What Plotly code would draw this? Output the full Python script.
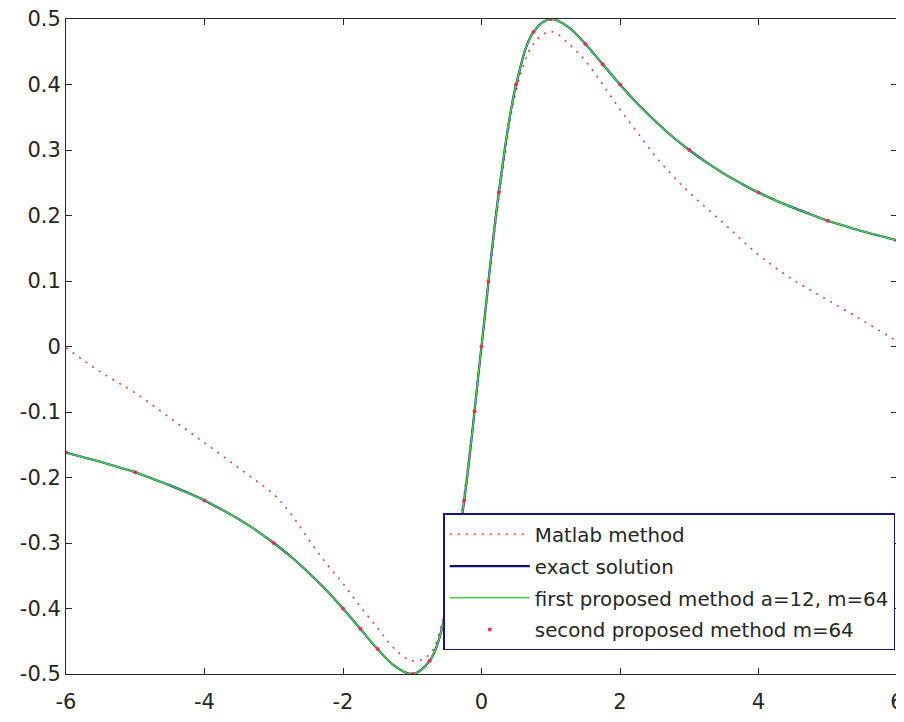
import plotly.graph_objects as go

# ---------------- data ----------------
x_exact = [-6, -5.75, -5.5, -5.25, -5, -4.75, -4.5, -4.25, -4, -3.75, -3.5, -3.25,
           -3, -2.75, -2.5, -2.25, -2, -1.75, -1.5, -1.25, -1, -0.75, -0.5, -0.25,
           0, 0.25, 0.5, 0.75, 1, 1.25, 1.5, 1.75, 2, 2.25, 2.5, 2.75, 3, 3.25,
           3.5, 3.75, 4, 4.25, 4.5, 4.75, 5, 5.25, 5.5, 5.75, 6]
y_exact = [-0.162, -0.169, -0.176, -0.184, -0.192, -0.202, -0.212, -0.223, -0.235,
           -0.249, -0.264, -0.281, -0.300, -0.321, -0.345, -0.371, -0.400, -0.431,
           -0.462, -0.488, -0.500, -0.480, -0.400, -0.235, 0.0, 0.235, 0.400, 0.480,
           0.500, 0.488, 0.462, 0.431, 0.400, 0.371, 0.345, 0.321, 0.300, 0.281,
           0.264, 0.249, 0.235, 0.223, 0.212, 0.202, 0.192, 0.184, 0.176, 0.169, 0.162]

x_first = x_exact
y_first = [-0.162, -0.169, -0.176, -0.184, -0.192, -0.202, -0.212, -0.223, -0.235,
           -0.249, -0.264, -0.281, -0.300, -0.321, -0.345, -0.371, -0.400, -0.431,
           -0.462, -0.488, -0.500, -0.480, -0.400, -0.235, 0.0, 0.235, 0.400, 0.480,
           0.500, 0.488, 0.462, 0.431, 0.400, 0.371, 0.345, 0.321, 0.300, 0.281,
           0.264, 0.249, 0.235, 0.223, 0.212, 0.202, 0.192, 0.184, 0.176, 0.169, 0.162]

x_matlab = [-6, -5.5, -5, -4.5, -4, -3.5, -3, -2.75, -2.5, -2.25, -2, -1.75, -1.5,
            -1.25, -1, -0.75, -0.5, -0.25, 0, 0.25, 0.5, 0.75, 1, 1.25, 1.5, 1.75,
            2, 2.25, 2.5, 2.75, 3, 3.5, 4, 4.5, 5, 5.5, 6]
y_matlab = [-0.002, -0.039, -0.071, -0.109, -0.147, -0.186, -0.226, -0.256, -0.294,
            -0.330, -0.362, -0.397, -0.430, -0.462, -0.480, -0.470, -0.390, -0.225,
            0.0, 0.225, 0.390, 0.462, 0.481, 0.463, 0.436, 0.400, 0.362, 0.327,
            0.292, 0.262, 0.235, 0.188, 0.140, 0.102, 0.071, 0.040, 0.008]

x_second = [-6, -5, -4, -3, -2, -1.75, -1.5, -1, -0.75, -0.5, -0.25, -0.1, 0,
            0.1, 0.25, 0.5, 0.75, 1, 1.5, 1.75, 2, 3, 4, 5, 6]
y_second = [-0.162, -0.192, -0.235, -0.300, -0.400, -0.431, -0.462, -0.500, -0.480,
            -0.400, -0.235, -0.099, 0.0, 0.099, 0.235, 0.400, 0.480, 0.500, 0.462,
            0.431, 0.400, 0.300, 0.235, 0.192, 0.162]

x_ticks = [-6, -4, -2, 0, 2, 4, 6]
x_ticktext = ["-6", "-4", "-2", "0", "2", "4", "6"]
y_ticks = [-0.5, -0.4, -0.3, -0.2, -0.1, 0, 0.1, 0.2, 0.3, 0.4, 0.5]
y_ticktext = ["-0.5", "-0.4", "-0.3", "-0.2", "-0.1", "0", "0.1", "0.2", "0.3", "0.4", "0.5"]

names = ["Matlab method", "exact solution", "first proposed method a=12, m=64",
         "second proposed method m=64"]

# ---------------- figure ----------------
FONT = "DejaVu Sans, Liberation Sans, Arial"

fig = go.Figure()
fig.add_trace(go.Scatter(x=x_matlab, y=y_matlab, mode="lines", name=names[0],
                         line=dict(color="rgb(215,70,60)", width=1.6, dash="2px,6px",
                                   shape="spline"),
                         legendgroup="a"))
fig.add_trace(go.Scatter(x=x_exact, y=y_exact, mode="lines", name=names[1],
                         line=dict(color="rgb(15,15,120)", width=2.2, shape="spline"),
                         legendgroup="b"))
fig.add_trace(go.Scatter(x=x_first, y=y_first, mode="lines", name=names[2],
                         line=dict(color="rgb(70,215,70)", width=1.5, shape="spline"),
                         legendgroup="c"))
fig.add_trace(go.Scatter(x=x_second, y=y_second, mode="markers", name=names[3],
                         marker=dict(color="rgb(225,50,90)", size=4),
                         legendgroup="d"))

axis_common = dict(showline=True, linecolor="#262626", linewidth=1, mirror="ticks",
                   ticks="inside", ticklen=6, tickcolor="#262626", showgrid=False,
                   zeroline=False, automargin=False, ticklabeloverflow="allow",
                   tickfont=dict(family=FONT, size=21, color="#262626"))

fig.update_xaxes(range=[-6, 6], tickmode="array", tickvals=x_ticks,
                 ticktext=x_ticktext, ticklabelstandoff=9, **axis_common)
fig.update_yaxes(range=[-0.5, 0.5], tickmode="array", tickvals=y_ticks,
                 ticktext=y_ticktext, **axis_common)

# the page body has an 8 px default margin, so the figure is sized to fit the window
fig.update_layout(
    width=896, height=714,
    margin=dict(l=58, r=7, t=11, b=48),
    plot_bgcolor="white", paper_bgcolor="white",
    font=dict(family=FONT, size=20, color="#262626"),
    legend=dict(x=0.998, xanchor="right", y=0.036, yanchor="bottom",
                bgcolor="white", bordercolor="rgb(20,20,140)", borderwidth=1.5,
                font=dict(family=FONT, size=19.8, color="#262626"), itemwidth=80,
                traceorder="grouped", tracegroupgap=3),
    showlegend=True,
)

fig.write_html("out.html")
